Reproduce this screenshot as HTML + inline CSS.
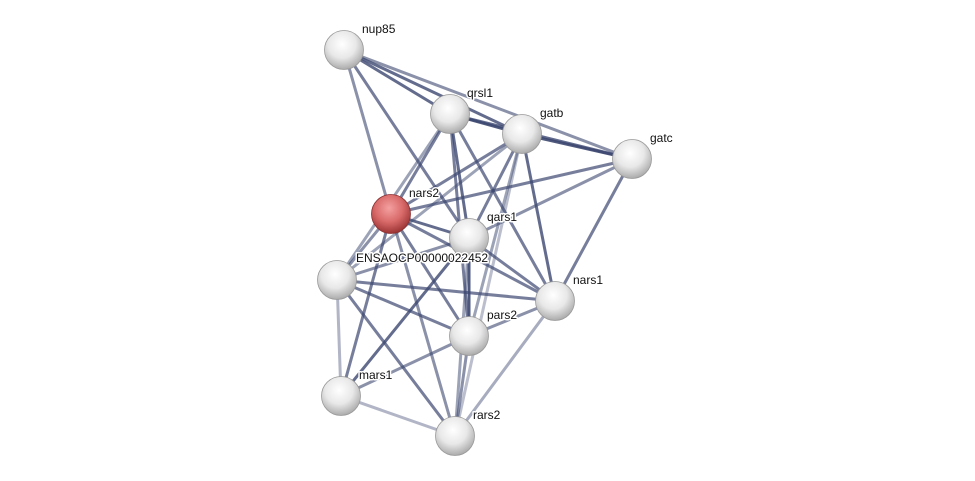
<!DOCTYPE html>
<html><head><meta charset="utf-8">
<style>
html,body{margin:0;padding:0;background:#fff;}
svg{display:block;}
text{font-family:"Liberation Sans",Arial,sans-serif;font-size:12px;fill:#111;paint-order:stroke;stroke:#fff;stroke-width:3px;stroke-linejoin:round;}
</style></head><body>
<svg width="975" height="481" viewBox="0 0 975 481" xmlns="http://www.w3.org/2000/svg">
<defs>
<radialGradient id="g" cx="45%" cy="35%" r="65%">
<stop offset="0" stop-color="#ffffff"/><stop offset="0.55" stop-color="#e8e8e8"/><stop offset="1" stop-color="#ababab"/>
</radialGradient>
<radialGradient id="r" cx="45%" cy="35%" r="65%">
<stop offset="0" stop-color="#f4a0a0"/><stop offset="0.55" stop-color="#d96a6a"/><stop offset="1" stop-color="#9c3434"/>
</radialGradient>
</defs>
<g stroke-linecap="round" fill="none" id="edges"></g>
<g id="nodes"></g>
</svg>
<script>
var N={nup85:[344,50],qrsl1:[450,114],gatb:[522,134],gatc:[632,159],nars2:[391,214],qars1:[469,238],ens:[337,280],nars1:[555,301],pars2:[469,336],mars1:[341,396],rars2:[455,436]};
var E=[
["nup85","qrsl1",.8],["nup85","gatb",.8],["nup85","gatc",.6],["nup85","nars2",.6],["nup85","qars1",.7],
["qrsl1","gatb",.9],["qrsl1","gatc",.8],["qrsl1","nars2",.7],["qrsl1","qars1",.8],["qrsl1","ens",.5],["qrsl1","nars1",.7],["qrsl1","pars2",.7],
["gatb","gatc",.9],["gatb","nars2",.7],["gatb","qars1",.7],["gatb","ens",.5],["gatb","nars1",.8],["gatb","pars2",.5],["gatb","rars2",.35],
["gatc","nars2",.7],["gatc","qars1",.6],["gatc","nars1",.7],
["nars2","qars1",.8],["nars2","ens",.6],["nars2","nars1",.7],["nars2","pars2",.7],["nars2","mars1",.7],["nars2","rars2",.6],
["qars1","ens",.6],["qars1","nars1",.7],["qars1","pars2",.9],["qars1","mars1",.8],["qars1","rars2",.5],
["ens","nars1",.7],["ens","pars2",.7],["ens","mars1",.4],["ens","rars2",.7],
["nars1","pars2",.6],["nars1","rars2",.45],["pars2","mars1",.6],["pars2","rars2",.6],["mars1","rars2",.4]];
var ns="http://www.w3.org/2000/svg",eg=document.getElementById("edges"),ng=document.getElementById("nodes");
E.forEach(function(e){var a=N[e[0]],b=N[e[1]],l=document.createElementNS(ns,"line");
l.setAttribute("x1",a[0]);l.setAttribute("y1",a[1]);l.setAttribute("x2",b[0]);l.setAttribute("y2",b[1]);
l.setAttribute("stroke","#3c4770");l.setAttribute("stroke-opacity",e[2]);l.setAttribute("stroke-width",3);eg.appendChild(l);});
var L={nup85:["nup85",18,-18],qrsl1:["qrsl1",17,-18],gatb:["gatb",18,-18],gatc:["gatc",18,-18],nars2:["nars2",18,-18],qars1:["qars1",18,-18],ens:["ENSAOCP00000022452",19,-19],nars1:["nars1",18,-18],pars2:["pars2",18,-18],mars1:["mars1",18,-18],rars2:["rars2",18,-18]};
for(var k in N){var p=N[k],c=document.createElementNS(ns,"circle");
c.setAttribute("cx",p[0]);c.setAttribute("cy",p[1]);c.setAttribute("r",19.5);
c.setAttribute("fill",k=="nars2"?"url(#r)":"url(#g)");c.setAttribute("stroke",k=="nars2"?"#8a3030":"#999");c.setAttribute("stroke-width",.8);ng.appendChild(c);}
for(var k in N){var p=N[k],t=document.createElementNS(ns,"text");
t.setAttribute("x",p[0]+L[k][1]);t.setAttribute("y",p[1]+L[k][2]+1);t.textContent=L[k][0];ng.appendChild(t);}
</script>
</body></html>
